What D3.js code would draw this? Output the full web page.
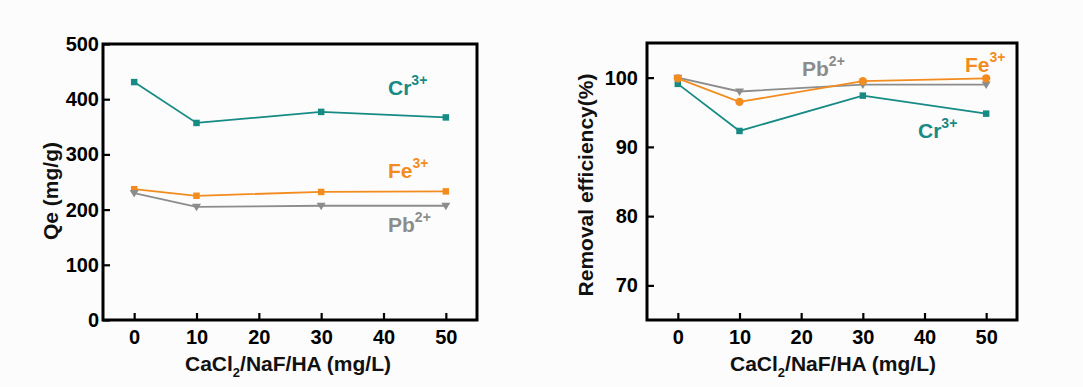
<!DOCTYPE html>
<html>
<head>
<meta charset="utf-8">
<script src="https://cdn.jsdelivr.net/npm/d3@7"></script>
<style>
  html, body { margin: 0; padding: 0; background: #fcfcfc; }
  svg { display: block; font-family: "Liberation Sans", Arial, sans-serif; font-weight: bold; }
</style>
</head>
<body>
<svg id="chart" width="1083" height="387"></svg>
<script>
// Dose of CaCl2/NaF/HA (mg/L)
const doses = [0, 10, 30, 50];
const xTicks = [0, 10, 20, 30, 40, 50];

// Adsorption capacity Qe (mg/g)
const qeCr = [431, 357, 377, 367];
const qeFe = [237, 225, 232, 233];
const qePb = [230, 205, 207, 207];
const qeTicks = [0, 100, 200, 300, 400, 500];

// Removal efficiency (%)
const reCr = [99.1, 92.3, 97.4, 94.8];
const reFe = [99.9, 96.5, 99.5, 99.9];
const rePb = [100.0, 98.0, 99.0, 99.0];
const reTicks = [70, 80, 90, 100];

const colors = { Cr: "#168a84", Fe: "#f28c1e", Pb: "#8c8c8c" };

const svg = d3.select("#chart");

function superLabel(g, x, y, base, sup, color) {
  const t = g.append("text").attr("x", x).attr("y", y)
    .attr("fill", color).attr("font-size", 21);
  t.append("tspan").text(base);
  t.append("tspan").attr("font-size", 14).attr("dy", -10).text(sup);
}

function xTitle(g, cx, cy) {
  const t = g.append("text").attr("x", cx).attr("y", cy)
    .attr("text-anchor", "middle").attr("font-size", 21).attr("fill", "#111");
  t.append("tspan").text("CaCl");
  t.append("tspan").attr("font-size", 13).attr("dy", 6).text("2");
  t.append("tspan").attr("dy", -6).text("/NaF/HA (mg/L)");
}

function panel(opts) {
  const { left, top, right, bottom, yDomain, yTicks, yPad, series, yTitle, yTitleX, yTitleY, xTitleX, labels } = opts;
  const g = svg.append("g");
  const x = d3.scaleLinear().domain([-5, 55]).range([left, right]);
  const y = d3.scaleLinear().domain(yDomain).range([bottom, top]);

  // y axis (ticks pointing inward)
  const ya = g.append("g").attr("transform", `translate(${left},0)`)
    .call(d3.axisLeft(y).tickValues(yTicks).tickSizeInner(-7).tickSizeOuter(0).tickPadding(yPad));
  ya.select(".domain").remove();
  ya.selectAll(".tick line").attr("stroke", "#000").attr("stroke-width", 2.2);
  ya.selectAll(".tick text").attr("font-size", 20).attr("font-weight", "bold")
    .attr("font-family", "Liberation Sans, Arial, sans-serif").attr("fill", "#000");

  // x axis
  const xa = g.append("g").attr("transform", `translate(0,${bottom})`)
    .call(d3.axisBottom(x).tickValues(xTicks).tickSizeInner(-7).tickSizeOuter(0).tickPadding(10));
  xa.select(".domain").remove();
  xa.selectAll(".tick line").attr("stroke", "#000").attr("stroke-width", 2.2);
  xa.selectAll(".tick text").attr("font-size", 20).attr("font-weight", "bold")
    .attr("font-family", "Liberation Sans, Arial, sans-serif").attr("fill", "#000");

  // frame
  g.append("rect").attr("x", left).attr("y", top)
    .attr("width", right - left).attr("height", bottom - top)
    .attr("fill", "none").attr("stroke", "#000").attr("stroke-width", 3);

  const line = d3.line().x((d, i) => x(doses[i])).y(d => y(d));
  series.forEach(s => {
    g.append("path").datum(s.values).attr("d", line)
      .attr("fill", "none").attr("stroke", s.color).attr("stroke-width", 1.8);
    const sym = d3.symbol().type(s.shape === "circle" ? d3.symbolCircle : d3.symbolSquare)
      .size(s.shape === "circle" ? 55 : 42);
    s.values.forEach((v, i) => {
      if (s.shape === "tri") {
        const cx = x(doses[i]), cy = y(v);
        g.append("path")
          .attr("d", `M${cx - 4.5},${cy - 3}L${cx + 4.5},${cy - 3}L${cx},${cy + 4.5}Z`)
          .attr("fill", s.color);
      } else {
        g.append("path").attr("d", sym)
          .attr("transform", `translate(${x(doses[i])},${y(v)})`)
          .attr("fill", s.color);
      }
    });
  });

  labels.forEach(l => superLabel(g, l.x, l.y, l.base, l.sup, l.color));

  g.append("text").attr("transform", `translate(${yTitleX},${yTitleY}) rotate(-90)`)
    .attr("text-anchor", "middle").attr("font-size", 21).attr("fill", "#111").text(yTitle);

  xTitle(g, xTitleX, 371);
}

panel({
  left: 103, top: 44, right: 477, bottom: 320,
  yDomain: [0, 500], yTicks: qeTicks, yPad: 4,
  series: [
    { values: qeCr, color: colors.Cr, shape: "square" },
    { values: qeFe, color: colors.Fe, shape: "square" },
    { values: qePb, color: colors.Pb, shape: "tri" }
  ],
  yTitle: "Qe (mg/g)", yTitleX: 58, yTitleY: 191, xTitleX: 288,
  labels: [
    { x: 388, y: 95, base: "Cr", sup: "3+", color: colors.Cr },
    { x: 388, y: 178, base: "Fe", sup: "3+", color: colors.Fe },
    { x: 388, y: 232, base: "Pb", sup: "2+", color: colors.Pb }
  ]
});

panel({
  left: 647, top: 43, right: 1017, bottom: 320,
  yDomain: [65, 105], yTicks: reTicks, yPad: 9,
  series: [
    { values: rePb, color: colors.Pb, shape: "tri" },
    { values: reCr, color: colors.Cr, shape: "square" },
    { values: reFe, color: colors.Fe, shape: "circle" }
  ],
  yTitle: "Removal efficiency(%)", yTitleX: 593, yTitleY: 185, xTitleX: 833,
  labels: [
    { x: 802, y: 76, base: "Pb", sup: "2+", color: colors.Pb },
    { x: 965, y: 72, base: "Fe", sup: "3+", color: colors.Fe },
    { x: 918, y: 138, base: "Cr", sup: "3+", color: colors.Cr }
  ]
});
</script>
</body>
</html>
